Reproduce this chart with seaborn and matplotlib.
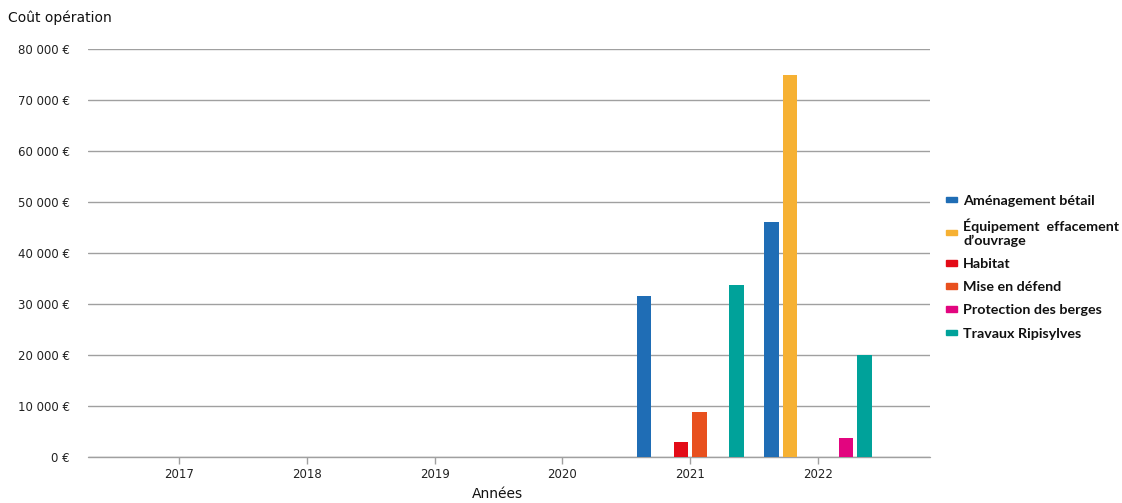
import pandas as pd
import matplotlib
matplotlib.use("Agg")
import matplotlib.pyplot as plt
from matplotlib.ticker import FuncFormatter
import seaborn as sns

# data
years = ["2017", "2018", "2019", "2020", "2021", "2022"]
categories = ["Aménagement bétail", "Équipement  effacement\nd’ouvrage", "Habitat",
              "Mise en défend", "Protection des berges", "Travaux Ripisylves"]
colors = ["#1f6db5", "#f6b133", "#e30b17", "#e8501e", "#e2057f", "#00a29a"]

bar_years = ["2021", "2021", "2021", "2021", "2022", "2022", "2022", "2022"]
bar_cats = [categories[0], categories[2], categories[3], categories[5],
            categories[0], categories[1], categories[4], categories[5]]
bar_values = [31600, 2900, 8900, 33800, 46000, 75000, 3800, 20000]

df = pd.DataFrame({"Année": bar_years, "Catégorie": bar_cats, "Coût": bar_values})

sns.set_theme(style="white")
plt.rcParams['font.family'] = ['DejaVu Sans']

fig = plt.figure(figsize=(11.22, 5.03), dpi=100)
ax = fig.add_axes([88 / 1122, 1 - 457 / 503, (930 - 88) / 1122, (457 - 49) / 503])

sns.barplot(data=df, x="Année", y="Coût", hue="Catégorie", order=years,
            hue_order=categories, palette=colors, width=0.87, gap=0.22,
            saturation=1, linewidth=0, ax=ax, legend=False)

ax.set_ylim(0, 80000)
ax.set_xlim(-0.712, 5.876)
ax.set_yticks(range(0, 80001, 10000))
ax.yaxis.set_major_formatter(FuncFormatter(lambda v, p: f"{int(v):,}".replace(",", " ") + " €"))
ax.grid(axis="y", color="#a0a0a0", linewidth=1)
ax.axhline(0, color="#a0a0a0", linewidth=1, clip_on=False, zorder=0.5)
ax.set_axisbelow(True)
for s in ax.spines.values():
    s.set_visible(False)
ax.tick_params(axis="y", length=0, pad=13, labelsize=8.5, labelcolor="#222222")
ax.tick_params(axis="x", length=5, width=1, color="#a0a0a0", bottom=True,
               labelsize=8.5, labelcolor="#222222", pad=3)
ax.set_xlabel("")
ax.set_ylabel("")

fig.text(8 / 1122, 1 - 18 / 503, "Coût opération", fontsize=10, color="#111111", va="center")
fig.text(497 / 1122, 1 - 494 / 503, "Années", fontsize=10, color="#111111", ha="center", va="center")

handles = [plt.Rectangle((0, 0), 1, 1, color=c) for c in colors]
fig.legend(handles, categories, loc="upper left", bbox_to_anchor=(933 / 1122, 1 - 182 / 503),
           frameon=False, prop={"family": "Lato", "weight": "bold", "size": 10.3},
           handlelength=0.75, handleheight=0.22, handletextpad=0.45, labelspacing=0.78,
           labelcolor="#111111")

fig.savefig("out.png", dpi=100)
